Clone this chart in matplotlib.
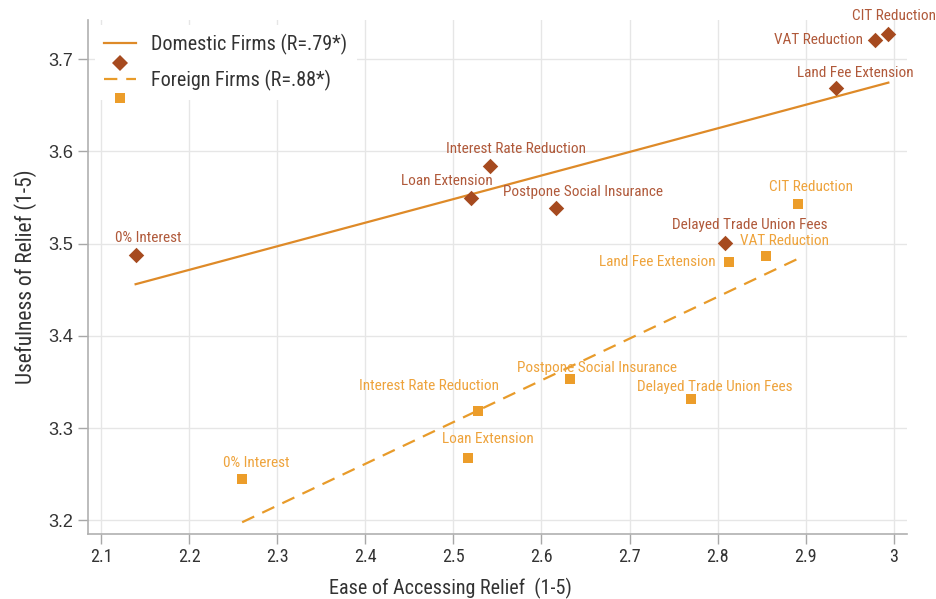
import numpy as np
import matplotlib
matplotlib.use("Agg")
import matplotlib.pyplot as plt
from matplotlib.lines import Line2D
from matplotlib.legend_handler import HandlerBase

plt.rcParams["font.family"] = ["Roboto Condensed", "Roboto", "DejaVu Sans"]

# Relief measures
measures = [
    "0% Interest",
    "Loan Extension",
    "Interest Rate Reduction",
    "Postpone Social Insurance",
    "Delayed Trade Union Fees",
    "Land Fee Extension",
    "VAT Reduction",
    "CIT Reduction",
]

# Domestic firms: ease of access (x) and usefulness (y)
domestic_ease = [2.139, 2.520, 2.542, 2.617, 2.808, 2.935, 2.979, 2.994]
domestic_use = [3.488, 3.550, 3.584, 3.539, 3.501, 3.669, 3.721, 3.727]

# Foreign firms
foreign_ease = [2.260, 2.517, 2.528, 2.632, 2.770, 2.813, 2.855, 2.891]
foreign_use = [3.245, 3.267, 3.319, 3.353, 3.331, 3.480, 3.487, 3.543]

x_ticks = [2.1, 2.2, 2.3, 2.4, 2.5, 2.6, 2.7, 2.8, 2.9, 3.0]
x_tick_labels = ["2.1", "2.2", "2.3", "2.4", "2.5", "2.6", "2.7", "2.8", "2.9", "3"]
y_ticks = [3.2, 3.3, 3.4, 3.5, 3.6, 3.7]

# Label placement (pixel offsets from each point, horizontal alignment)
domestic_label_pos = [
    (13, 17, "center"), (-24, 17, "center"), (26, 17, "center"), (27, 16, "center"),
    (25, 18, "center"), (19, 15, "center"), (-12, 0, "right"), (6, 18, "center"),
]
foreign_label_pos = [
    (14, 16, "center"), (19, 19, "center"), (-49, 25, "center"), (27, 11, "center"),
    (24, 12, "center"), (-13, 0, "right"), (19, 15, "center"), (13, 17, "center"),
]

DOM_MARK = "#a64a1f"
DOM_TEXT = "#b0593a"
DOM_LINE = "#de8a28"
FOR_MARK = "#ec9d2a"
FOR_TEXT = "#eea33c"
FOR_LINE = "#e89b2a"
TEXT = "#333333"

W, H = 937, 599
fig = plt.figure(figsize=(W / 100, H / 100), dpi=100)
ax = fig.add_axes([88 / W, (H - 534) / H, 819 / W, 514 / H])

ax.set_xlim(2.0849, 3.0152)
ax.set_ylim(3.1851, 3.7426)

ax.grid(True, color="#e6e6e6", linewidth=1)
ax.set_axisbelow(True)
for side in ("top", "right"):
    ax.spines[side].set_visible(False)
for side in ("left", "bottom"):
    ax.spines[side].set_color("#b0b0b0")
    ax.spines[side].set_linewidth(1.2)

ax.set_xticks(x_ticks)
ax.set_xticklabels(x_tick_labels)
ax.set_yticks(y_ticks)
ax.set_yticklabels([f"{v:.1f}" for v in y_ticks],
                   fontfamily=["Liberation Sans", "DejaVu Sans"])
ax.tick_params(axis="both", direction="out", length=7, width=1, color="#a8a8a8",
               labelsize=13, labelcolor=TEXT)
ax.tick_params(axis="y", pad=3.5)
ax.tick_params(axis="x", pad=3)

# Trend lines from least-squares fits
def fit_line(xs, ys):
    xs = np.asarray(xs)
    m, b = np.polyfit(xs, np.asarray(ys), 1)
    xx = np.array([xs.min(), xs.max()])
    return xx, m * xx + b

dx, dy = fit_line(domestic_ease, domestic_use)
ax.plot(dx, dy, color=DOM_LINE, linewidth=1.6, zorder=2)
fx, fy = fit_line(foreign_ease, foreign_use)
ax.plot(fx, fy, color=FOR_LINE, linewidth=1.6, linestyle=(0, (6, 4)), zorder=2)

ax.scatter(domestic_ease, domestic_use, marker="D", s=62, color=DOM_MARK, zorder=3, linewidths=0)
ax.scatter(foreign_ease, foreign_use, marker="s", s=62, color=FOR_MARK, zorder=3, linewidths=0)

for name, x, y, (ox, oy, ha) in zip(measures, domestic_ease, domestic_use, domestic_label_pos):
    ax.annotate(name, (x, y), xytext=(ox, oy), textcoords="offset pixels",
                ha=ha, va="center", fontsize=11, color=DOM_TEXT, zorder=4)
for name, x, y, (ox, oy, ha) in zip(measures, foreign_ease, foreign_use, foreign_label_pos):
    ax.annotate(name, (x, y), xytext=(ox, oy), textcoords="offset pixels",
                ha=ha, va="center", fontsize=11, color=FOR_TEXT, zorder=4)

ax.set_xlabel("Ease of Accessing Relief  (1-5)", fontsize=14.5, color=TEXT)
ax.xaxis.set_label_coords(0.443, -0.086)
ax.set_ylabel("Usefulness of Relief (1-5)", fontsize=15.5, color=TEXT, labelpad=8)


class LineOverMarker(HandlerBase):
    """Legend key: the trend line level with the label, its marker just below."""

    def __init__(self, line_kw, marker_kw, drop):
        super().__init__()
        self.line_kw = line_kw
        self.marker_kw = marker_kw
        self.drop = drop

    def create_artists(self, legend, orig_handle, xdescent, ydescent,
                       width, height, fontsize, trans):
        y = height / 2 - ydescent
        x0 = -xdescent
        line = Line2D([x0, x0 + width], [y, y], **self.line_kw)
        mark = Line2D([x0 + width / 2], [y - self.drop], linestyle="none", **self.marker_kw)
        line.set_transform(trans)
        mark.set_transform(trans)
        return [line, mark]


dom_key = Line2D([], [])
for_key = Line2D([], [])
handler_map = {
    dom_key: LineOverMarker(dict(color=DOM_LINE, linewidth=1.6),
                            dict(marker="D", markersize=8, color=DOM_MARK, markeredgewidth=0), 14),
    for_key: LineOverMarker(dict(color=FOR_LINE, linewidth=1.6, linestyle=(0, (6, 4))),
                            dict(marker="s", markersize=7.5, color=FOR_MARK, markeredgewidth=0), 13.5),
}
leg = ax.legend([dom_key, for_key], ["Domestic Firms (R=.79*)", "Foreign Firms (R=.88*)"],
                handler_map=handler_map, loc="upper left",
                bbox_to_anchor=(95 / W, 1 - 25 / H), bbox_transform=fig.transFigure,
                borderaxespad=0, fontsize=14.5, frameon=True, framealpha=1,
                facecolor="white", edgecolor="none", handlelength=1.6,
                labelspacing=0.72, borderpad=0.45, handletextpad=0.75)
for t in leg.get_texts():
    t.set_color(TEXT)

fig.savefig("out.png", dpi=100)
